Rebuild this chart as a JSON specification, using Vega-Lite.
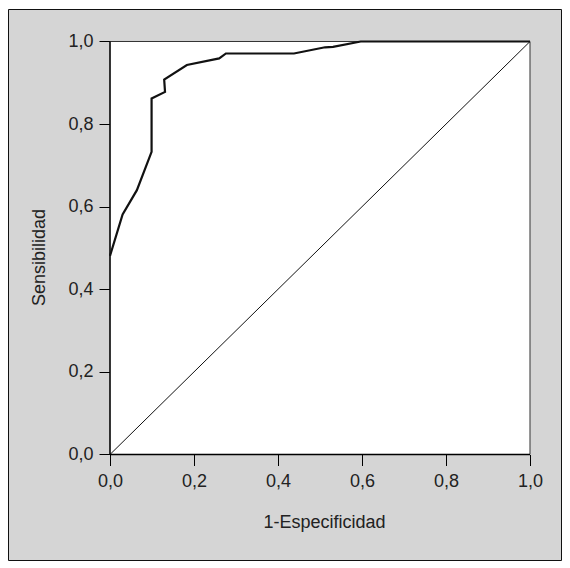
{
  "$schema": "https://vega.github.io/schema/vega-lite/v6.json",
  "width": 553,
  "height": 551,
  "autosize": "none",
  "padding": {"left": 8, "top": 9, "right": 9, "bottom": 8},
  "background": "white",
  "config": {
    "view": {"fill": "#d5d5d5", "stroke": "#111111", "strokeWidth": 1},
    "font": "Liberation Sans"
  },
  "datasets": {
    "box": [{"x": 0, "x2": 1, "y": 0, "y2": 1}],
    "diag": [{"x": 0, "y": 0}, {"x": 1, "y": 1}],
    "axes": [
      {"x": 0, "x2": 0, "y": 0, "y2": 1},
      {"x": 0, "x2": 1, "y": 0, "y2": 0}
    ],
    "roc": [
      {"i": 1, "x": 0.0, "y": 0.481},
      {"i": 2, "x": 0.030, "y": 0.581},
      {"i": 3, "x": 0.064, "y": 0.640},
      {"i": 4, "x": 0.099, "y": 0.733},
      {"i": 5, "x": 0.099, "y": 0.862},
      {"i": 6, "x": 0.131, "y": 0.878},
      {"i": 7, "x": 0.129, "y": 0.908},
      {"i": 8, "x": 0.183, "y": 0.943},
      {"i": 9, "x": 0.260, "y": 0.959},
      {"i": 10, "x": 0.276, "y": 0.971},
      {"i": 11, "x": 0.438, "y": 0.971},
      {"i": 12, "x": 0.512, "y": 0.986},
      {"i": 13, "x": 0.531, "y": 0.987},
      {"i": 14, "x": 0.597, "y": 1.0},
      {"i": 15, "x": 1.0, "y": 1.0}
    ]
  },
  "encoding": {
    "x": {
      "field": "x", "type": "quantitative",
      "scale": {"domain": [-0.24286, 1.07381], "nice": false, "zero": false},
      "axis": {
        "orient": "bottom", "offset": -105.5, "values": [0, 0.2, 0.4, 0.6, 0.8, 1.0],
        "labelExpr": "replace(format(datum.value, '.1f'), '.', ',')",
        "domain": false, "grid": false, "tickSize": 11, "tickColor": "#000000",
        "labelFontSize": 18, "labelColor": "#222222", "labelPadding": 7,
        "title": "1-Especificidad", "titleFontSize": 18, "titleFontWeight": "normal", "titleColor": "#222222",
        "titlePadding": 23, "titleX": 316
      }
    },
    "y": {
      "field": "y", "type": "quantitative",
      "scale": {"domain": [-0.25545, 1.07869], "nice": false, "zero": false},
      "axis": {
        "orient": "left", "offset": -102, "values": [0, 0.2, 0.4, 0.6, 0.8, 1.0],
        "labelExpr": "replace(format(datum.value, '.1f'), '.', ',')",
        "domain": false, "grid": false, "tickSize": 11, "tickColor": "#000000",
        "labelFontSize": 18, "labelColor": "#222222", "labelPadding": 6,
        "title": "Sensibilidad", "titleFontSize": 18, "titleFontWeight": "normal", "titleColor": "#222222",
        "titlePadding": 19, "titleY": 248
      }
    }
  },
  "layer": [
    {
      "data": {"name": "box"},
      "mark": {"type": "rect", "fill": "white", "stroke": "#333333", "strokeWidth": 1},
      "encoding": {
        "x2": {"field": "x2"},
        "y2": {"field": "y2"}
      }
    },
    {
      "data": {"name": "diag"},
      "mark": {"type": "line", "color": "#111111", "strokeWidth": 1},
      "encoding": {}
    },
    {
      "data": {"name": "axes"},
      "mark": {"type": "rule", "color": "#000000", "strokeWidth": 1.3},
      "encoding": {
        "x2": {"field": "x2"},
        "y2": {"field": "y2"}
      }
    },
    {
      "data": {"name": "roc"},
      "mark": {"type": "line", "color": "#111111", "strokeWidth": 2.2, "strokeJoin": "miter"},
      "encoding": {
        "order": {"field": "i", "type": "quantitative"}
      }
    }
  ]
}
